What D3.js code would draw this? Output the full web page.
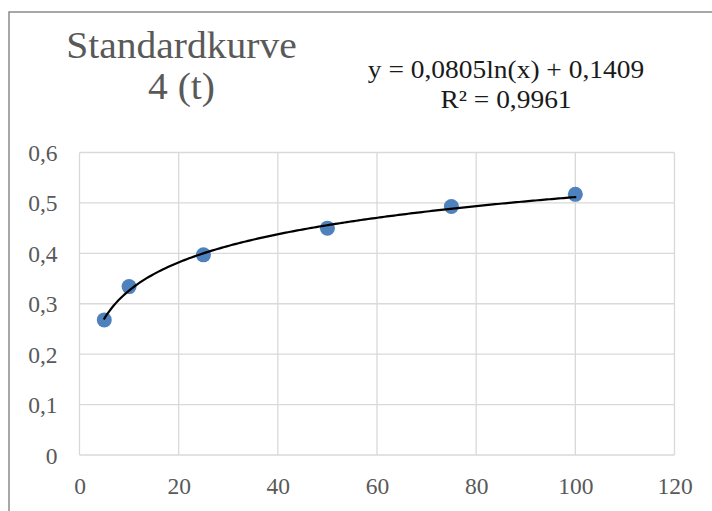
<!DOCTYPE html>
<html>
<head>
<meta charset="utf-8">
<script src="https://cdn.jsdelivr.net/npm/d3@7"></script>
<style>
  html, body { margin: 0; padding: 0; background: #fff; }
  svg { display: block; }
</style>
</head>
<body>
<svg id="chart" width="712" height="511"></svg>
<script>
// ---- data ----
const xValues = [5, 10, 25, 50, 75, 100];
const yValues = [0.268, 0.334, 0.397, 0.450, 0.493, 0.517];
const xTicks = [0, 20, 40, 60, 80, 100, 120];
const yTicks = [0, 0.1, 0.2, 0.3, 0.4, 0.5, 0.6];
const titleLines = ["Standardkurve", "4 (t)"];
const trendCoef = [0.0805, 0.1409]; // y = a*ln(x) + b
const equationLines = ["y = 0,0805ln(x) + 0,1409", "R² = 0,9961"];

// ---- layout ----
const svg = d3.select("#chart");
const W = 712, H = 511;
const plot = { left: 79.5, right: 674.5, top: 152.5, bottom: 455 };
const serif = "'Liberation Serif', 'Times New Roman', serif";

const x = d3.scaleLinear().domain([0, 120]).range([plot.left, plot.right]);
const y = d3.scaleLinear().domain([0, 0.6]).range([plot.bottom, plot.top]);

// frame (cropped chart border)
svg.append("path")
  .attr("d", `M9,${H} L9,12 L${W},12`)
  .attr("fill", "none")
  .attr("stroke", "#8a8a8a")
  .attr("stroke-width", 1.5);

// gridlines
const grid = svg.append("g");
grid.selectAll("line.h").data(yTicks).join("line")
  .attr("x1", plot.left).attr("x2", plot.right)
  .attr("y1", d => y(d)).attr("y2", d => y(d))
  .attr("stroke", "#d9d9d9").attr("stroke-width", 1.3);
grid.selectAll("line.v").data(xTicks).join("line")
  .attr("y1", plot.top).attr("y2", plot.bottom)
  .attr("x1", d => x(d)).attr("x2", d => x(d))
  .attr("stroke", "#d9d9d9").attr("stroke-width", 1.3);

const fmtY = d => d === 0 ? "0" : d3.format(".1f")(d).replace(".", ",");

// axes via d3 axis generators (domain & ticks hidden, labels kept)
const yAxis = svg.append("g")
  .attr("transform", `translate(${plot.left},0)`)
  .call(d3.axisLeft(y).tickValues(yTicks).tickFormat(fmtY).tickSize(0).tickPadding(22));
const xAxis = svg.append("g")
  .attr("transform", `translate(0,${plot.bottom})`)
  .call(d3.axisBottom(x).tickValues(xTicks).tickFormat(d3.format("d")).tickSize(0).tickPadding(22));
[yAxis, xAxis].forEach(g => {
  g.select(".domain").remove();
  g.selectAll("text")
    .attr("fill", "#595959")
    .style("font-family", serif)
    .style("font-size", "23.5px");
});
yAxis.selectAll("text").attr("dy", "0.34em");
xAxis.selectAll("text").attr("dy", "0.71em");

// points
const pts = xValues.map((v, i) => [v, yValues[i]]);
svg.append("g").selectAll("circle").data(pts).join("circle")
  .attr("cx", d => x(d[0])).attr("cy", d => y(d[1]))
  .attr("r", 7.5)
  .attr("fill", "#4f81bd");

// trendline (logarithmic fit shown in the chart)
const xMin = d3.min(xValues), xMax = d3.max(xValues);
const trendPts = d3.range(0, 201).map(i => {
  const xv = xMin + (xMax - xMin) * i / 200;
  return [xv, trendCoef[0] * Math.log(xv) + trendCoef[1]];
});
svg.append("path")
  .datum(trendPts)
  .attr("d", d3.line().x(d => x(d[0])).y(d => y(d[1])))
  .attr("fill", "none")
  .attr("stroke", "#000")
  .attr("stroke-width", 2.2)
  .attr("stroke-linecap", "round");

// title (slightly widened to mimic Cambria proportions)
svg.append("g").selectAll("text").data(titleLines).join("text")
  .attr("transform", (d, i) => `translate(181.5,${58 + i * 41}) scale(1.04,1)`)
  .attr("text-anchor", "middle")
  .attr("fill", "#595959")
  .style("font-family", serif)
  .style("font-size", "38px")
  .text(d => d);

// equation label
svg.append("g").selectAll("text").data(equationLines).join("text")
  .attr("transform", (d, i) => `translate(506,${78 + i * 30}) scale(1.12,1)`)
  .attr("text-anchor", "middle")
  .attr("fill", "#1a1a1a")
  .style("font-family", serif)
  .style("font-size", "24.5px")
  .text(d => d);
</script>
</body>
</html>
